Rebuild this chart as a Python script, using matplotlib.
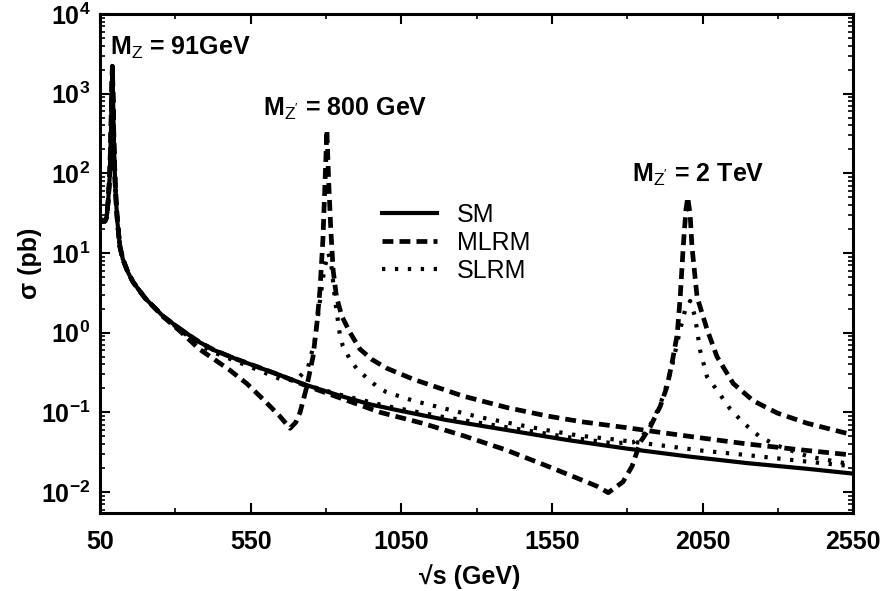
import matplotlib
matplotlib.use("Agg")
import matplotlib.pyplot as plt
from matplotlib.lines import Line2D

plt.rcParams["font.family"] = ["Liberation Sans", "DejaVu Sans"]
plt.rcParams["mathtext.fontset"] = "custom"
plt.rcParams["mathtext.rm"] = "Liberation Sans"
plt.rcParams["mathtext.bf"] = "Liberation Sans:bold"
plt.rcParams["mathtext.it"] = "Liberation Sans:italic"

# sqrt(s) in GeV, sigma in pb
sm_x = [50, 58, 66, 72, 77, 82, 86, 89, 91, 93, 96, 100, 104, 108, 116, 126, 143, 160,
        200, 260, 315, 380, 430, 500, 550, 650, 735, 850, 950, 1050, 1200, 1400, 1600,
        1800, 2000, 2200, 2400, 2550]
sm_y = [27, 25, 25, 28, 45, 90, 300, 1100, 2200, 1000, 250, 80, 40, 24, 12, 8.3, 5.7, 4.3,
        2.7, 1.6, 1.12, 0.76, 0.6, 0.47, 0.4, 0.29, 0.22, 0.16, 0.125, 0.104, 0.08, 0.06, 0.045,
        0.035, 0.028, 0.023, 0.0195, 0.017]

mlrm800_x = [50, 58, 66, 72, 77, 82, 86, 89, 91, 93, 96, 100, 104, 108, 116, 126, 143, 160,
             200, 260, 315, 380, 430, 480, 537, 592, 646, 681, 700, 714, 735, 757, 770, 780,
             790, 797, 803, 809, 816, 824, 835, 853, 880, 913, 953, 1000, 1090, 1255, 1400,
             1534, 1650, 1800, 1910, 2040, 2200, 2370, 2550]
mlrm800_y = [27, 25, 25, 28, 45, 90, 300, 1100, 2200, 1000, 250, 80, 40, 24, 12, 8.3, 5.7, 4.3,
             2.7, 1.58, 1.05, 0.62, 0.46, 0.34, 0.23, 0.145, 0.09, 0.063, 0.075, 0.1, 0.2, 0.5,
             1.3, 3.4, 15, 80, 350, 80, 20, 6, 2.8, 1.6, 1.0, 0.62, 0.46, 0.36, 0.26, 0.16, 0.115,
             0.09, 0.076, 0.064, 0.056, 0.048, 0.04, 0.034, 0.029]

slrm800_x = [50, 58, 66, 72, 77, 82, 86, 89, 91, 93, 96, 100, 104, 108, 116, 126, 143, 160,
             200, 260, 315, 380, 430, 500, 550, 650, 700, 740, 763, 780, 795, 808, 818, 830,
             846, 856, 880, 903, 936, 970, 1000, 1090, 1200, 1310, 1420, 1530, 1640, 1750,
             1900, 2050, 2200, 2400, 2550]
slrm800_y = [27, 25, 25, 28, 45, 90, 300, 1100, 2200, 1000, 250, 80, 40, 24, 12, 8.3, 5.7, 4.3,
             2.7, 1.6, 1.08, 0.7, 0.56, 0.44, 0.37, 0.26, 0.25, 0.36, 0.8, 2.5, 6.5, 10, 7, 2.6,
             0.95, 0.68, 0.46, 0.35, 0.27, 0.21, 0.18, 0.14, 0.11, 0.087, 0.072, 0.06, 0.051,
             0.046, 0.039, 0.033, 0.029, 0.024, 0.021]

mlrm2000_x = [50, 58, 66, 72, 77, 82, 86, 89, 91, 93, 96, 100, 104, 108, 116, 126, 143, 160,
              200, 260, 315, 380, 430, 500, 550, 650, 735, 850, 980, 1120, 1255, 1395, 1534,
              1644, 1700, 1737, 1786, 1816, 1843, 1876, 1910, 1932, 1949, 1966, 1976, 1986,
              1995, 2001, 2009, 2015, 2032, 2065, 2098, 2152, 2218, 2298, 2397, 2550]
mlrm2000_y = [27, 25, 25, 28, 45, 90, 300, 1100, 2200, 1000, 250, 80, 40, 24, 12, 8.3, 5.7, 4.3,
              2.7, 1.6, 1.12, 0.76, 0.6, 0.47, 0.4, 0.29, 0.215, 0.15, 0.1, 0.073, 0.051, 0.034,
              0.0212, 0.0144, 0.0118, 0.0098, 0.0134, 0.021, 0.042, 0.065, 0.12, 0.21, 0.42,
              0.95, 2.8, 12, 35, 50, 30, 12, 2.8, 1.1, 0.5, 0.23, 0.14, 0.098, 0.073, 0.052]

slrm2000_x = [50, 58, 66, 72, 77, 82, 86, 89, 91, 93, 96, 100, 104, 108, 116, 126, 143, 160,
              200, 260, 315, 380, 430, 500, 550, 650, 735, 850, 1000, 1200, 1400, 1600, 1750,
              1820, 1860, 1890, 1920, 1949, 1976, 1995, 2009, 2025, 2042, 2065, 2098, 2142,
              2185, 2241, 2300, 2400, 2550]
slrm2000_y = [27, 25, 25, 28, 45, 90, 300, 1100, 2200, 1000, 250, 80, 40, 24, 12, 8.3, 5.7, 4.3,
              2.7, 1.6, 1.12, 0.76, 0.6, 0.47, 0.4, 0.29, 0.22, 0.165, 0.12, 0.086, 0.065, 0.049,
              0.041, 0.042, 0.055, 0.085, 0.16, 0.38, 1.1, 2.1, 2.5, 1.6, 0.6, 0.28, 0.19, 0.11,
              0.074, 0.049, 0.038, 0.028, 0.022]

x_ticks = [50, 550, 1050, 1550, 2050, 2550]
x_minor = [300, 800, 1300, 1800, 2300]
y_ticks = [1e-2, 1e-1, 1e0, 1e1, 1e2, 1e3, 1e4]
y_labels = [r"10$^{\mathbf{-2}}$", r"10$^{\mathbf{-1}}$", r"10$^{\mathbf{0}}$", r"10$^{\mathbf{1}}$",
            r"10$^{\mathbf{2}}$", r"10$^{\mathbf{3}}$", r"10$^{\mathbf{4}}$"]

dash_style = dict(color="black", lw=3.4, linestyle=(0, (2.3, 1.3)))
dot_style = dict(color="black", lw=3.0, linestyle=(0, (0.8, 2.3)))

fig = plt.figure(figsize=(8.86, 5.91), dpi=100)
ax = fig.add_axes([0.1129, 0.132, 0.85, 0.8443])

ax.plot(slrm2000_x, slrm2000_y, **dot_style)
ax.plot(slrm800_x, slrm800_y, **dot_style)
ax.plot(mlrm2000_x, mlrm2000_y, **dash_style)
ax.plot(mlrm800_x, mlrm800_y, **dash_style)
ax.plot(sm_x, sm_y, color="black", lw=3)

ax.set_yscale("log")
ax.set_xlim(50, 2550)
ax.set_ylim(5.45e-3, 1e4)
ax.set_xticks(x_ticks)
ax.set_xticks(x_minor, minor=True)
ax.set_xticklabels([str(v) for v in x_ticks], fontsize=18, fontweight="bold")
ax.set_yticks(y_ticks)
ax.set_yticklabels(y_labels, fontsize=18, fontweight="bold")

ax.tick_params(which="both", direction="in", top=True, right=True)
ax.tick_params(which="major", length=7, width=1.5)
ax.tick_params(which="minor", length=3.5, width=1.2)
ax.tick_params(axis="x", which="major", pad=12)
ax.tick_params(axis="y", which="major", pad=7)
for s in ax.spines.values():
    s.set_linewidth(2.2)

fig.text(30 / 886, 0.132 + 0.8443 / 2, "σ (pb)", rotation=90, fontsize=18,
         fontweight="bold", ha="center", va="center")
fig.text(470 / 886, 1 - 577 / 591, "√s (GeV)", fontsize=18, fontweight="bold",
         ha="center", va="center")

fig.text(110 / 886, 1 - 55 / 591, r"M$_{\mathrm{Z}}$ = 91GeV", fontsize=18, fontweight="bold",
         ha="left", va="baseline")
fig.text(263 / 886, 1 - 116 / 591, r"M$_{\mathrm{Z}'}$ = 800 GeV", fontsize=18, fontweight="bold",
         ha="left", va="baseline")
fig.text(632 / 886, 1 - 182 / 591, r"M$_{\mathrm{Z}'}$ = 2 TeV", fontsize=18, fontweight="bold",
         ha="left", va="baseline")

handles = [Line2D([], [], color="black", lw=3),
           Line2D([], [], **dash_style),
           Line2D([], [], **dot_style)]
ax.legend(handles, ["SM", "MLRM", "SLRM"], loc="upper left",
          bbox_to_anchor=(382 / 886, 1 - 203 / 591), bbox_transform=fig.transFigure,
          frameon=False, fontsize=18, handlelength=2.2, handletextpad=0.8,
          labelspacing=0.15, borderpad=0, borderaxespad=0)

fig.savefig("out.png", dpi=100)
